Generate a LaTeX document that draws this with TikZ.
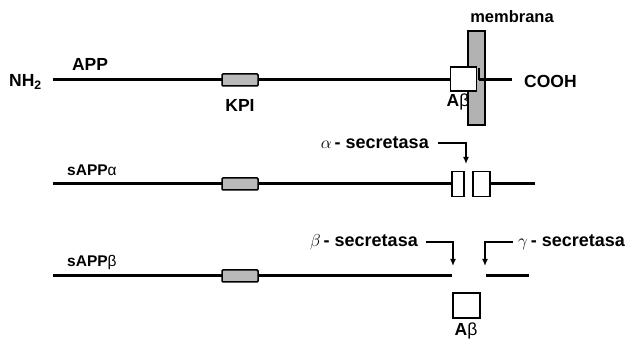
\documentclass[tikz,border=0pt]{standalone}
\usepackage{fontspec}
\setmainfont{Liberation Sans}
\usetikzlibrary{arrows.meta}
\begin{document}
\begin{tikzpicture}[x=1pt,y=-1pt,
  chain/.style={line width=3pt},
  kpi/.style={draw, line width=1.5pt, fill=gray!55, rounded corners=1pt, minimum width=36pt, minimum height=12pt, inner sep=0pt},
  abox/.style={draw, line width=1.2pt, fill=white, inner sep=0pt},
  lbl/.style={font=\fontsize{17.5}{20}\selectfont\bfseries, inner sep=0pt},
  slbl/.style={font=\fontsize{15.5}{18}\selectfont\bfseries, inner sep=0pt},
  sec/.style={font=\fontsize{18}{20}\selectfont\bfseries, inner sep=0pt},
  arr/.style={line width=1.5pt, -{Latex[length=7pt,width=6pt]}}]
\useasboundingbox (0,0) rectangle (627,352);

% ---------- APP ----------
\coordinate (a1s) at (53,80);
\coordinate (a1e) at (451,80);
\draw[chain] (a1s) -- (a1e);
\node[kpi] (kpi1) at (240,80) {};
\node[draw, fill=gray!60, line width=1.2pt, minimum width=17pt, minimum height=94pt, inner sep=0pt] (mem) at (476.5,78) {};
\node[abox, minimum width=26pt, minimum height=24pt] (ab1) at (463.5,79) {};
\coordinate (tick1) at (479,68);
\coordinate (tick2) at (479,80);
\coordinate (cend) at (512,80);
\draw[line width=1.2pt] (tick1) -- (tick2);
\draw[chain] (tick2) -- (cend);
\node[lbl, anchor=west] (nh2) at (9,82) {NH\textsubscript{2}};
\node[lbl] (app) at (90,64) {APP};
\node[lbl] (kpil) at (240,105) {KPI};
\node[lbl] (abl1) at (458,102) {A\textmd{β}};
\node[lbl, font=\fontsize{16.5}{18}\selectfont\bfseries] (meml) at (512,17) {membrana};
\node[lbl, anchor=west] (cooh) at (524,81) {COOH};

% ---------- sAPP alpha ----------
\coordinate (a2s) at (53,184);
\coordinate (a2e) at (452,184);
\draw[chain] (a2s) -- (a2e);
\node[kpi] (kpi2) at (240,184) {};
\node[abox, minimum width=12pt, minimum height=25pt] (b21) at (458,184) {};
\node[abox, minimum width=17pt, minimum height=25pt] (b22) at (481.5,184) {};
\coordinate (a2r) at (535,184);
\draw[chain] (b22.east) -- (a2r);
\node[slbl, anchor=west] (sa) at (67,170) {sAPP\textmd{α}};
\node[sec, anchor=east] (asec) at (429,143) {$\alpha$\,- secretasa};
\coordinate (acut) at (466,164);
\draw[arr] (asec.east) ++(9,0) -| (acut);

% ---------- sAPP beta ----------
\coordinate (a3s) at (53,276);
\coordinate (a3e) at (452,276);
\draw[chain] (a3s) -- (a3e);
\node[kpi] (kpi3) at (240,276) {};
\coordinate (a3rs) at (486,276);
\coordinate (a3re) at (529,276);
\draw[chain] (a3rs) -- (a3re);
\node[abox, minimum width=27pt, minimum height=25pt] (ab3) at (466.5,305.5) {};
\node[lbl] (abl3) at (466,331) {A\textmd{β}};
\node[slbl, anchor=west] (sb) at (67,262) {sAPP\textmd{β}};
\node[sec, anchor=east] (bsec) at (418,242) {$\beta$\,- secretasa};
\node[sec, anchor=west] (gsec) at (518,242) {$\gamma$\,- secretasa};
\coordinate (bcut) at (453,266);
\coordinate (gcut) at (485,266);
\draw[arr] (bsec.east) ++(8,0) -| (bcut);
\draw[arr] (gsec.west) ++(-5,0) -| (gcut);
\end{tikzpicture}
\end{document}
